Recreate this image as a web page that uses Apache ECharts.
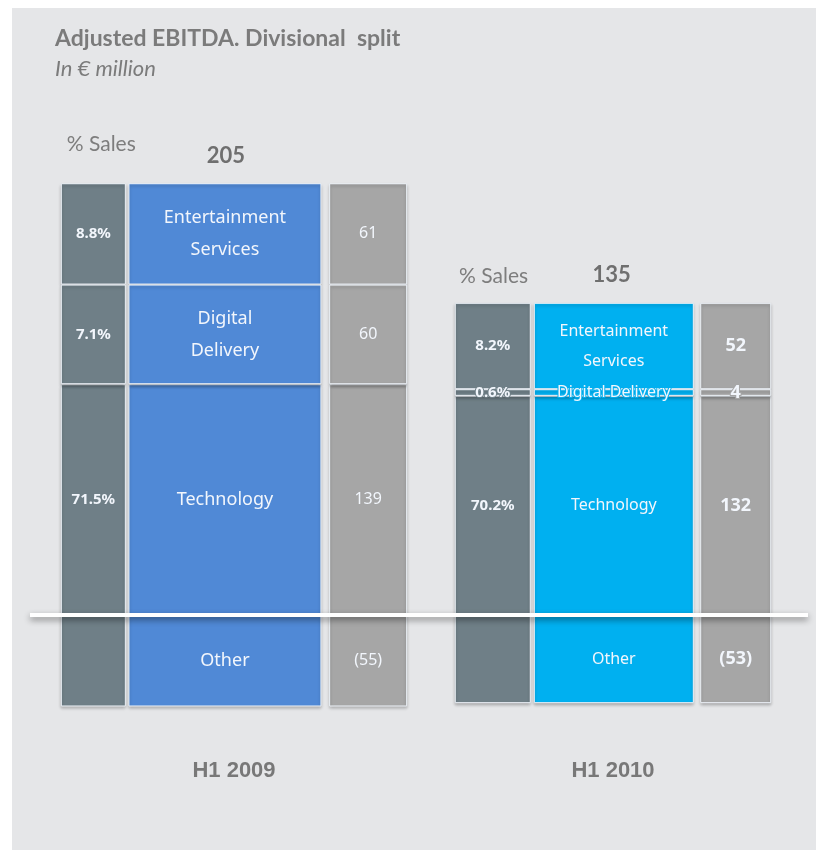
<!DOCTYPE html>
<html>
<head>
<meta charset="utf-8">
<script src="https://cdn.jsdelivr.net/npm/echarts@6/dist/echarts.min.js"></script>
<style>
  html, body { margin: 0; padding: 0; background: #fff; }
  #chart { width: 816px; height: 850px; }
</style>
</head>
<body>
<div id="chart"></div>
<script>
// data
const years = ['H1 2009', 'H1 2010']
const technology = [139, 132]
const digitalDelivery = [60, 4]
const entertainment = [61, 52]
const other = [-55, -53]
const techSales = ['71.5%', '70.2%']
const digitalSales = ['7.1%', '0.6%']
const entSales = ['8.8%', '8.2%']
const otherSales = ['', '']
const techNames = ['Technology', 'Technology']
const digitalNames = ['Digital\nDelivery', 'Digital Delivery']
const entNames = ['Entertainment\nServices', 'Entertainment\nServices']
const otherNames = ['Other', 'Other']

const totals = years.map((y, i) => technology[i] + digitalDelivery[i] + entertainment[i] + other[i])
const stackTops = years.map((y, i) => technology[i] + digitalDelivery[i] + entertainment[i])

const divisions = [
  {name: 'Technology', values: technology, sales: techSales, names: techNames},
  {name: 'Digital Delivery', values: digitalDelivery, sales: digitalSales, names: digitalNames},
  {name: 'Entertainment Services', values: entertainment, sales: entSales, names: entNames},
  {name: 'Other', values: other, sales: otherSales, names: otherNames}
]

// look of each year block (not data)
const blocks = [
  {left: 30, width: 408, widths: [65, 193, 78], main: '#5089d6', nameSize: 18, valSize: 16,
    salesShift: 17, salesDist: 28, totalShift: 10},
  {left: 438, width: 350, widths: [76, 160, 71], main: '#00b0f0', nameSize: 16, valSize: 18,
    salesShift: 0, salesDist: 16, totalShift: -3}
]
const gap = 0.04

const series = []
const grids = []
const xAxes = []
const yAxes = []

blocks.forEach((b, yi) => {
  grids.push({left: b.left, width: b.width, top: 150, bottom: 102})
  xAxes.push({
    type: 'category',
    gridIndex: yi,
    data: [years[yi]],
    axisLine: {show: false},
    axisTick: {show: false},
    axisLabel: {
      margin: 12,
      color: '#787878',
      fontFamily: 'Liberation Sans',
      fontSize: 22,
      fontWeight: 'bold'
    }
  })
  yAxes.push({type: 'value', gridIndex: yi, min: -80, max: 280, show: false})

  const columns = [
    {stack: 'pct', color: '#6f7f87', size: 15, weight: 'bold', text: d => d.sales[yi]},
    {stack: 'main', color: b.main, size: b.nameSize, weight: 'normal', text: d => d.names[yi]},
    {stack: 'val', color: '#a6a6a6', size: b.valSize, weight: yi ? 'bold' : 'normal',
      text: d => d.values[yi] < 0 ? '(' + Math.abs(d.values[yi]) + ')' : String(d.values[yi])}
  ]

  // center offsets of the columns inside a block, to place header labels
  let sum = 0
  b.widths.forEach(w => { sum += w * (1 + gap) })
  sum -= b.widths[2] * gap
  const pctCenter = -sum / 2 + b.widths[0] / 2
  const mainCenter = -sum / 2 + b.widths[0] * (1 + gap) + b.widths[1] / 2

  columns.forEach((col, ci) => {
    divisions.forEach((d, di) => {
      const s = {
        name: d.name + ' ' + col.stack,
        type: 'bar',
        xAxisIndex: yi,
        yAxisIndex: yi,
        stack: col.stack + yi,
        z: di === 1 ? 3 : 2,
        barWidth: b.widths[ci],
        barGap: (gap * 100) + '%',
        data: [d.values[yi]],
        itemStyle: {
          color: col.color,
          borderColor: '#edf2f8',
          borderWidth: 1,
          shadowBlur: 3,
          shadowColor: 'rgba(0, 0, 0, 0.25)',
          shadowOffsetY: 2
        },
        label: {
          show: true,
          position: 'inside',
          color: '#f2f6fc',
          fontFamily: 'Noto Sans',
          fontSize: col.size,
          fontWeight: col.weight,
          lineHeight: col.size + 14,
          textBorderColor: col.color,
          textBorderWidth: 2,
          formatter: () => col.text(d)
        }
      }
      // headers on top of the Entertainment segment
      if (col.stack === 'main' && di === 2) {
        s.markPoint = {
          silent: true,
          symbol: 'rect',
          symbolSize: 1,
          itemStyle: {color: 'transparent'},
          data: [
            {
              coord: [0, stackTops[yi]],
              value: totals[yi],
              label: {
                show: true,
                position: 'top',
                distance: 16,
                offset: [mainCenter + b.totalShift, 0],
                color: '#6f6f6f',
                fontFamily: 'Lato',
                fontSize: 22,
                fontWeight: 'bold',
                formatter: String(totals[yi])
              }
            },
            {
              coord: [0, stackTops[yi]],
              value: 0,
              label: {
                show: true,
                position: 'top',
                distance: b.salesDist,
                offset: [pctCenter + b.salesShift, 0],
                color: '#7d7d7d',
                fontFamily: 'Lato',
                fontSize: 21,
                formatter: '% Sales'
              }
            }
          ]
        }
      }
      series.push(s)
    })
  })
})

// full width zero line
grids.push({left: 30, right: 8, top: 150, bottom: 102})
xAxes.push({type: 'value', gridIndex: 2, min: 0, max: 1, show: false})
yAxes.push({type: 'value', gridIndex: 2, min: -80, max: 280, show: false})
series.push({
  name: 'zero',
  type: 'line',
  xAxisIndex: 2,
  yAxisIndex: 2,
  z: 10,
  data: [],
  markLine: {
    silent: true,
    symbol: 'none',
    label: {show: false},
    lineStyle: {
      color: '#ffffff',
      width: 4,
      type: 'solid',
      shadowBlur: 6,
      shadowColor: 'rgba(0, 0, 0, 0.45)',
      shadowOffsetY: 3
    },
    data: [{yAxis: 0}]
  }
})

const chart = echarts.init(document.getElementById('chart'))
chart.setOption({
  backgroundColor: '#ffffff',
  animation: false,
  graphic: [{
    type: 'rect',
    z: -100,
    shape: {x: 12, y: 8, width: 804, height: 842},
    style: {fill: '#e5e6e8'}
  }],
  title: {
    text: 'Adjusted EBITDA. Divisional  split',
    subtext: 'In € million',
    left: 50,
    top: 22,
    itemGap: 8,
    textStyle: {
      color: '#7b7b7b',
      fontFamily: 'Lato',
      fontSize: 23,
      fontWeight: 'bold'
    },
    subtextStyle: {
      color: '#7b7b7b',
      fontFamily: 'Lato',
      fontSize: 22,
      fontStyle: 'italic'
    }
  },
  grid: grids,
  xAxis: xAxes,
  yAxis: yAxes,
  series: series
})
</script>
</body>
</html>
